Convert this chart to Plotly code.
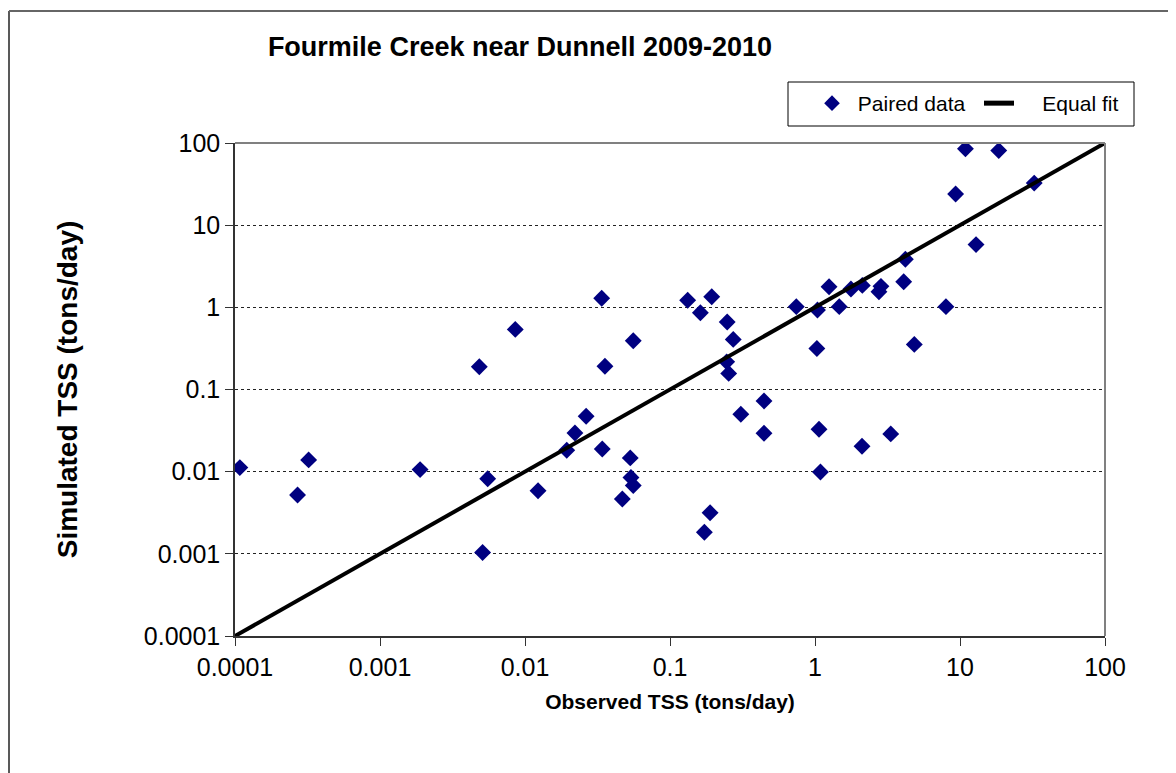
import plotly.graph_objects as go

# Paired data (tons/day)
observed = [0.000108, 0.00027, 0.000322, 0.00189, 0.0051, 0.00553, 0.00484, 0.00857,
            0.0123, 0.0194, 0.0221, 0.0264, 0.0341, 0.0356, 0.0338, 0.0532, 0.0538,
            0.0558, 0.0469, 0.0558, 0.189, 0.1726, 0.254, 0.308, 0.445, 0.445,
            1.066, 1.09, 2.11, 3.33, 0.1324, 0.162, 0.194, 0.248, 0.273, 0.246,
            0.743, 1.04, 1.03, 1.25, 1.47, 1.77, 2.12, 2.76, 2.85, 4.09, 4.2,
            4.84, 8.0, 9.33, 10.9, 18.5, 12.9, 32.5]
simulated = [0.0112, 0.0052, 0.0139, 0.0106, 0.00104, 0.0082, 0.189, 0.539,
             0.00586, 0.0182, 0.0296, 0.0472, 0.0189, 0.192, 1.29, 0.0147, 0.0085,
             0.0068, 0.00464, 0.392, 0.00316, 0.00183, 0.157, 0.05, 0.0726, 0.0293,
             0.0328, 0.0099, 0.0204, 0.0288, 1.22, 0.86, 1.346, 0.662, 0.407, 0.217,
             1.02, 0.927, 0.316, 1.78, 1.02, 1.67, 1.85, 1.55, 1.80, 2.05, 3.85,
             0.354, 1.02, 23.9, 85, 81, 5.8, 32.5]

equal_x = [0.0001, 100]
equal_y = [0.0001, 100]

tick_vals = [0.0001, 0.001, 0.01, 0.1, 1, 10, 100]
tick_text = ["0.0001", "0.001", "0.01", "0.1", "1", "10", "100"]

FONT = "Liberation Sans, Arial, sans-serif"
NB = "\u00a0"

# page body has an 8px margin; figure is sized so the plot area lands at
# page x 235..1105, y 143..636
OFF = 8
W, H = 1176 - OFF, 773 - OFF
PX0, PX1, PY0, PY1 = 235, 1105, 143, 636


def px(xp):
    return (xp - PX0) / (PX1 - PX0)


def py(yp):
    return (PY1 - yp) / (PY1 - PY0)


fig = go.Figure()
fig.add_trace(go.Scatter(
    x=observed, y=simulated, mode="markers", name=NB + "Paired data",
    marker=dict(symbol="diamond", size=13, color="#000080",
                line=dict(width=0)),
))
fig.add_trace(go.Scatter(
    x=equal_x, y=equal_y, mode="lines", name=NB * 4 + "Equal fit",
    line=dict(color="black", width=4),
))

fig.update_layout(
    width=W, height=H,
    margin=dict(l=PX0 - OFF, r=W - (PX1 - OFF), t=PY0 - OFF, b=H - (PY1 - OFF),
                pad=0),
    paper_bgcolor="white", plot_bgcolor="white",
    font=dict(family=FONT, size=20, color="black"),
    showlegend=True,
    title=dict(text="<b>Fourmile Creek near Dunnell 2009-2010</b>",
               x=(520 - OFF) / W, xanchor="center",
               y=1 - (47 - OFF) / H, yanchor="middle",
               font=dict(family=FONT, size=27, color="black")),
    legend=dict(orientation="h", x=px(812), y=py(83),
                xanchor="left", yanchor="top",
                borderwidth=0, bgcolor="rgba(0,0,0,0)",
                font=dict(family=FONT, size=21),
                entrywidth=122, entrywidthmode="pixels",
                itemsizing="constant"),
    xaxis=dict(type="log", range=[-4, 2], tickvals=tick_vals, ticktext=tick_text,
               showgrid=False, zeroline=False,
               showline=True, linecolor="#333333", linewidth=1.5,
               ticks="outside", ticklen=8, tickcolor="#333333",
               tickfont=dict(family=FONT, size=25),
               title=dict(text="<b>Observed TSS (tons/day)</b>", standoff=15,
                          font=dict(family=FONT, size=21))),
    yaxis=dict(type="log", range=[-4, 2], tickvals=tick_vals, ticktext=tick_text,
               showgrid=True, gridcolor="#222222", griddash="dot", gridwidth=1,
               zeroline=False,
               showline=True, linecolor="#333333", linewidth=1.5,
               ticks="outside", ticklen=8, tickcolor="#333333",
               tickfont=dict(family=FONT, size=25),
               title=dict(text="<b>Simulated TSS (tons/day)</b>", standoff=58,
                          font=dict(family=FONT, size=28))),
    shapes=[
        # grey plot-area frame (top & right)
        dict(type="line", xref="paper", yref="paper", x0=0, x1=1, y0=1, y1=1,
             line=dict(color="#808080", width=2)),
        dict(type="line", xref="paper", yref="paper", x0=1, x1=1, y0=0, y1=1,
             line=dict(color="#808080", width=2)),
        # legend box
        dict(type="rect", xref="paper", yref="paper",
             x0=px(788), x1=px(1134), y0=py(126), y1=py(82),
             line=dict(color="black", width=1), fillcolor="white", layer="below"),
        # outer chart border (left & top)
        dict(type="line", xref="paper", yref="paper",
             x0=px(9), x1=px(9), y0=py(790), y1=py(11),
             line=dict(color="#222222", width=1.5)),
        dict(type="line", xref="paper", yref="paper",
             x0=px(9), x1=px(1200), y0=py(11), y1=py(11),
             line=dict(color="#666666", width=2)),
    ],
)

fig.write_html("out.html")
